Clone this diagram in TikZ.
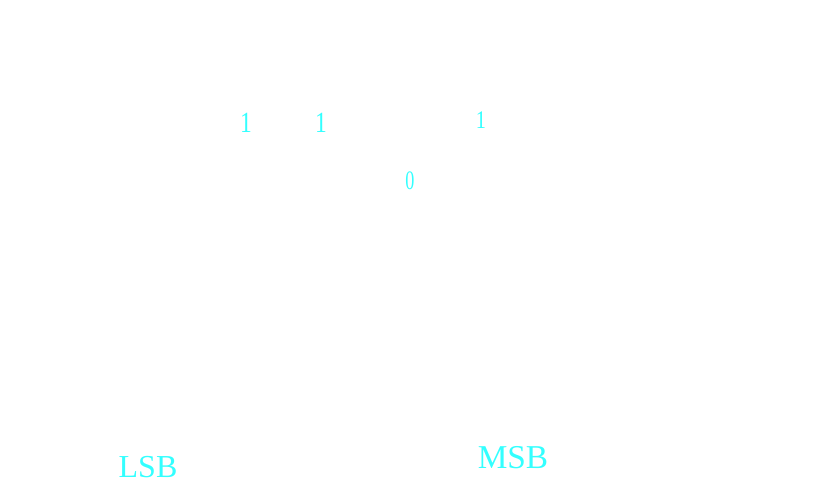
\documentclass[tikz,border=0pt]{standalone}
\usepackage{fontspec}
\setmainfont{Liberation Serif}
\newfontfamily\bitfont{Liberation Serif}[FakeStretch=0.8]
\newfontfamily\narrowbitfont{Liberation Serif}[FakeStretch=0.68]
\usepackage{tikz}
\usetikzlibrary{positioning,calc}
\definecolor{bitcyan}{RGB}{51,255,255}
\tikzset{bit/.style={
    text=bitcyan,
    inner sep=0pt,
    align=center,
  }}

\begin{document}
\begin{tikzpicture}[x=0.75pt,y=-0.75pt]
        \useasboundingbox (0,0) rectangle (829,485);

        \node (bita) [bit,font=\bitfont\fontsize{22}{22}\selectfont] at (246,123) {1};
        \node (bitb) [bit,font=\bitfont\fontsize{22}{22}\selectfont] at (321,123) {1};
        \node (bitc) [bit,font=\bitfont\fontsize{19}{19}\selectfont] at (481,120.5) {1};
        \node (bitd) [bit,font=\narrowbitfont\fontsize{20}{20}\selectfont] at (410,180.5) {0};

        \node (lsb) [bit,font=\fontsize{24}{24}\selectfont] at (148,467.5) {LSB};
        \node (msb) [bit,font=\fontsize{25}{25}\selectfont] at (513,457.5) {MSB};

      \end{tikzpicture}
\end{document}
